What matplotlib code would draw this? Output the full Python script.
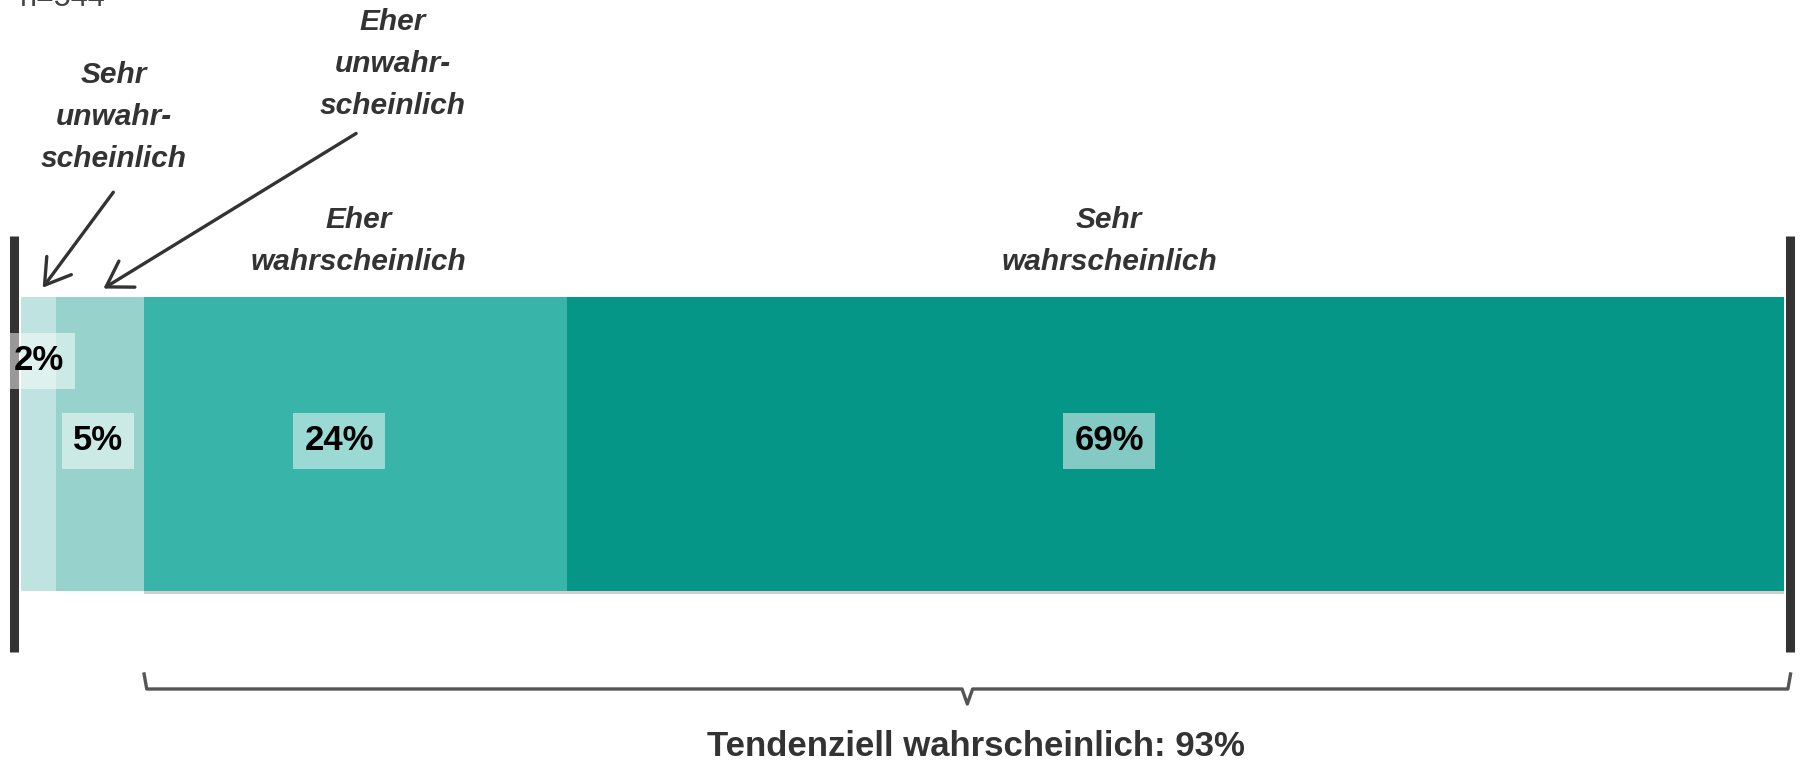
## Imports

from matplotlib import pyplot as plt
from matplotlib.patches import FancyArrowPatch
import numpy as np

plt.rcParams['font.family'] = ['Liberation Sans', 'DejaVu Sans']

## Daten

kategorien = ["Sehr\nunwahr-\nscheinlich", "Eher\nunwahr-\nscheinlich",
              "Eher\nwahrscheinlich", "Sehr\nwahrscheinlich"]
werte = [2, 5, 24, 69]
labels = ["2%", "5%", "24%", "69%"]
tendenz_text = "Tendenziell wahrscheinlich: 93%"
n_text = "n=544"

farben = ["#bee3e0", "#97d3cc", "#38b4a9", "#069687"]
dunkel = "#333333"

## Figur (y in Pixeln, x in Prozent)

W, H = 1802, 764
X0, X1 = 20.7, 1783.5            # Pixel fuer 0% und 100%
s = (X1 - X0) / 100.0

def px(x):
    return (x - X0) / s

fig = plt.figure(figsize=(W / 100, H / 100), dpi=100)
ax = fig.add_axes([0, 0, 1, 1])
ax.set_xlim(px(0), px(W))
ax.set_ylim(H, 0)
ax.axis('off')

## Balken

links = np.concatenate([[0], np.cumsum(werte)[:-1]])
y_bar, h_bar = 443.6, 294
ax.barh([y_bar] * 4, werte, left=links, height=h_bar, color=farben,
        edgecolor='none', zorder=2)
# leichter Schatten unter dem Balken
ax.barh([y_bar + 3], [sum(werte[2:])], left=[links[2]], height=h_bar,
        color='#cfcfcf', edgecolor='none', zorder=1)

# senkrechte Linien links und rechts
for xl in [px(13.8), px(1790)]:
    ax.plot([xl, xl], [235.6, 651.6], color=dunkel, lw=6.5,
            solid_capstyle='butt', zorder=3)

## Werte-Labels

lab_x = [px(39), px(97.7), px(339), px(1109)]
lab_y = [361, 441, 441, 441]
for x, y, t in zip(lab_x, lab_y, labels):
    ax.text(x, y, t, ha='center', va='center', fontsize=25,
            fontweight='bold', color='black', zorder=5,
            bbox=dict(boxstyle='square,pad=0.32', fc='white', ec='none',
                      alpha=0.5))

## Kategorien

kat_x = [px(113.8), px(393), px(358.5), px(1109)]
kat_y = [117, 64, 241, 241]
for x, y, t in zip(kat_x, kat_y, kategorien):
    ax.text(x, y, t, ha='center', va='center', fontsize=21.5,
            fontweight='bold', fontstyle='italic', color=dunkel,
            linespacing=1.62)

# Pfeile
pfeile = [((115, 190), (41, 290)), ((358.5, 132), (101, 290))]
for (xa, ya), (xb, yb) in pfeile:
    ax.add_patch(FancyArrowPatch((px(xa), ya), (px(xb), yb),
                                 arrowstyle='->,head_length=0.8,head_width=0.5',
                                 mutation_scale=22, lw=2.4, color=dunkel))

## Klammer

bx0, bx1 = links[2], 100.4
bm = (bx0 + bx1) / 2
by = 689
kl_x = [bx0, bx0 + 0.15, bm - 0.3, bm, bm + 0.3, bx1 - 0.15, bx1]
kl_y = [674, by, by, 704, by, by, 674]
ax.plot(kl_x, kl_y, color='#555555', lw=2.4, solid_joinstyle='round')

ax.text(bm + 0.5, 763, tendenz_text, ha='center', va='bottom',
        fontsize=25, fontweight='bold', color=dunkel)

# oben abgeschnittene Fallzahl
ax.text(px(20), 6, n_text, ha='left', va='baseline', fontsize=22,
        color='#444444')

plt.savefig("out.png", dpi=100)
